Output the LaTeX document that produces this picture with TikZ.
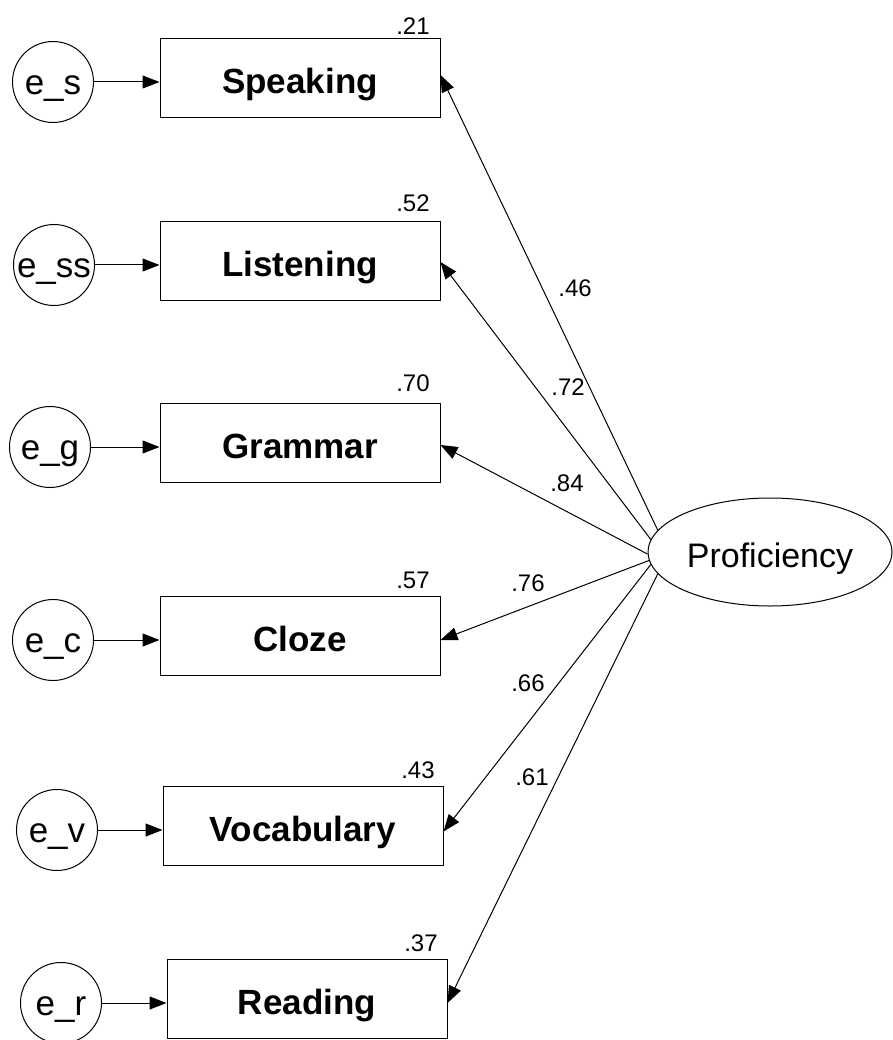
\documentclass[tikz,border=0pt]{standalone}
\usepackage{fontspec}
\setmainfont{Liberation Sans}
\usetikzlibrary{arrows.meta,shapes.geometric}
\begin{document}
\begin{tikzpicture}[x=1pt,y=-1pt,
 obs/.style={draw,line width=1pt,minimum width=280pt,minimum height=79pt,inner sep=0pt,text height=31pt,text depth=0pt,font=\fontsize{35}{40}\selectfont\bfseries},
 err/.style={draw,circle,line width=1pt,minimum size=81pt,inner sep=0pt,text height=24.6pt,text depth=0pt,font=\fontsize{35}{40}\selectfont},
 lat/.style={draw,ellipse,line width=1pt,minimum width=244pt,minimum height=108pt,inner sep=0pt,text height=30.4pt,text depth=0pt,font=\fontsize{34}{40}\selectfont},
 num/.style={font=\fontsize{24}{28}\selectfont,inner sep=0pt},
 arr/.style={-{Triangle[length=17pt,width=13pt]},line width=1pt}]
\useasboundingbox (0,0) rectangle (892,1040);
% observed variables
\node[obs] (spk) at (300,78.5) {Speaking};
\node[obs] (lis) at (300,261) {Listening};
\node[obs] (gra) at (300,443) {Grammar};
\node[obs] (clo) at (300,636) {Cloze};
\node[obs] (voc) at (303,825.5) {Vocabulary};
\node[obs] (rea) at (307,999) {Reading};
% error terms
\node[err] (es) at (53,82) {e\_s};
\node[err] (ess) at (54,265) {e\_ss};
\node[err] (eg) at (50,447) {e\_g};
\node[err] (ec) at (53,640) {e\_c};
\node[err] (ev) at (57,830) {e\_v};
\node[err] (er) at (61,1003) {e\_r};
% latent
\node[lat] (prof) at (770,552) {Proficiency};
% error arrows
\draw[arr] (es.east) -- (es.east -| spk.west);
\draw[arr] (ess.east) -- (ess.east -| lis.west);
\draw[arr] (eg.east) -- (eg.east -| gra.west);
\draw[arr] (ec.east) -- (ec.east -| clo.west);
\draw[arr] (ev.east) -- (ev.east -| voc.west);
\draw[arr] (er.east) -- (er.east -| rea.west);
% loadings
\draw[arr] (prof.169) -- ([yshift=3.5pt]spk.east);
\draw[arr] (prof.174) -- ([yshift=-1pt]lis.east);
\draw[arr] (prof.181) -- ([yshift=-2pt]gra.east);
\draw[arr] (prof.184) -- ([yshift=-4pt]clo.east);
\draw[arr] (prof.186) -- ([yshift=-6pt]voc.east);
\draw[arr] (prof.191) -- ([yshift=-4pt]rea.east);
% loading labels
\node[num] (l46) at (575,288) {.46};
\node[num] (l72) at (568,387) {.72};
\node[num] (l84) at (567,483) {.84};
\node[num] (l76) at (528,583) {.76};
\node[num] (l66) at (528,683) {.66};
\node[num] (l61) at (532,777) {.61};
% squared multiple correlations
\node[num] (r21) at (413,26) {.21};
\node[num] (r52) at (413,203) {.52};
\node[num] (r70) at (413,383) {.70};
\node[num] (r57) at (413,580) {.57};
\node[num] (r43) at (418,770) {.43};
\node[num] (r37) at (421,943) {.37};
\end{tikzpicture}
\end{document}
